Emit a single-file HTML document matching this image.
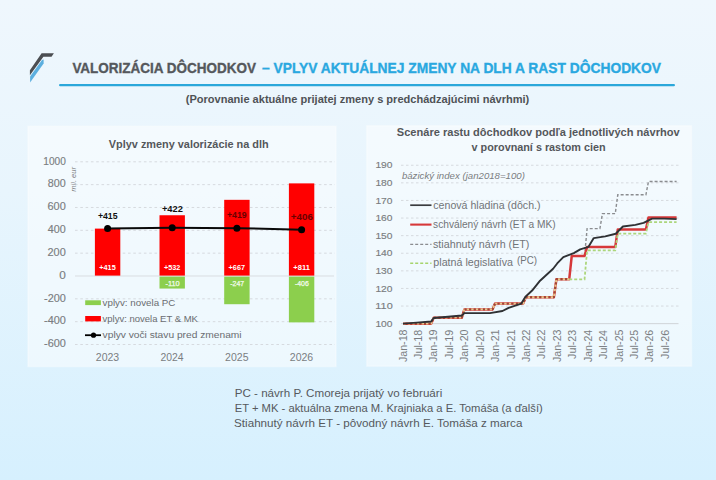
<!DOCTYPE html>
<html><head><meta charset="utf-8"><style>
html,body{margin:0;padding:0;width:716px;height:480px;overflow:hidden;}
body{background:linear-gradient(180deg,#eff7fd 0%,#e8f5fd 40%,#d6f0fe 100%);}
svg{position:absolute;left:0;top:0;}
text{font-family:"Liberation Sans", sans-serif;}
</style></head><body>
<svg width="716" height="480" viewBox="0 0 716 480">
<polygon points="41.6,53.15 53.9,53.15 51.5,56.7 43.4,56.7 29.9,75.3 29.9,70.2" fill="#4b4e52"/>
<polygon points="42,59.9 43.6,59.5 43.6,63.4 30.1,82.4 30.1,76.5" fill="#5cafdf"/>
<rect x="59" y="83.9" width="616" height="2.4" rx="1.2" fill="#2ba7da"/>
<rect x="28" y="126.3" width="308" height="240.2" fill="#ffffff" fill-opacity="0.48" stroke="#ffffff" stroke-opacity="0.3" stroke-width="1.6"/>
<rect x="366.8" y="125.8" width="324.7" height="240.4" fill="#ffffff" fill-opacity="0.48" stroke="#ffffff" stroke-opacity="0.3" stroke-width="1.6"/>
<line x1="75" y1="161.80" x2="335" y2="161.80" stroke="#d6dadf" stroke-width="1" stroke-dasharray="2.6 2.7"/>
<line x1="75" y1="184.64" x2="335" y2="184.64" stroke="#d6dadf" stroke-width="1" stroke-dasharray="2.6 2.7"/>
<line x1="75" y1="207.48" x2="335" y2="207.48" stroke="#d6dadf" stroke-width="1" stroke-dasharray="2.6 2.7"/>
<line x1="75" y1="230.32" x2="335" y2="230.32" stroke="#d6dadf" stroke-width="1" stroke-dasharray="2.6 2.7"/>
<line x1="75" y1="253.16" x2="335" y2="253.16" stroke="#d6dadf" stroke-width="1" stroke-dasharray="2.6 2.7"/>
<line x1="75" y1="298.84" x2="335" y2="298.84" stroke="#d6dadf" stroke-width="1" stroke-dasharray="2.6 2.7"/>
<line x1="75" y1="321.68" x2="335" y2="321.68" stroke="#d6dadf" stroke-width="1" stroke-dasharray="2.6 2.7"/>
<line x1="75" y1="344.52" x2="335" y2="344.52" stroke="#d6dadf" stroke-width="1" stroke-dasharray="2.6 2.7"/>
<line x1="75" y1="276.00" x2="334" y2="276.00" stroke="#d9dde1" stroke-width="1"/>
<rect x="94.90" y="228.61" width="25.4" height="46.99" fill="#ff0000"/>
<rect x="159.50" y="215.25" width="25.4" height="60.35" fill="#ff0000"/>
<rect x="159.50" y="276.60" width="25.4" height="11.96" fill="#8ccf4d"/>
<rect x="224.20" y="199.83" width="25.4" height="75.77" fill="#ff0000"/>
<rect x="224.20" y="276.60" width="25.4" height="27.61" fill="#8ccf4d"/>
<rect x="288.90" y="183.38" width="25.4" height="92.22" fill="#ff0000"/>
<rect x="288.90" y="276.60" width="25.4" height="45.77" fill="#8ccf4d"/>
<polyline points="107.60,228.61 172.20,227.81 236.90,228.15 301.60,229.63" fill="none" stroke="#0a0a0a" stroke-width="2"/>
<circle cx="107.6" cy="228.61" r="3.5" fill="#000"/>
<circle cx="172.2" cy="227.81" r="3.5" fill="#000"/>
<circle cx="236.9" cy="228.15" r="3.5" fill="#000"/>
<circle cx="301.6" cy="229.63" r="3.5" fill="#000"/>
<rect x="85.2" y="300.3" width="15.7" height="4.8" fill="#8ccf4d"/>
<rect x="85.2" y="316" width="15.7" height="5.4" fill="#ff0000"/>
<line x1="85" y1="335.2" x2="101" y2="335.2" stroke="#000" stroke-width="1.8"/>
<circle cx="93.5" cy="335.2" r="2.6" fill="#000"/>
<line x1="401" y1="165.25" x2="678.5" y2="165.25" stroke="#d6dadf" stroke-width="1" stroke-dasharray="2.5 2.5"/>
<line x1="401" y1="182.85" x2="678.5" y2="182.85" stroke="#d6dadf" stroke-width="1" stroke-dasharray="2.5 2.5"/>
<line x1="401" y1="200.45" x2="678.5" y2="200.45" stroke="#d6dadf" stroke-width="1" stroke-dasharray="2.5 2.5"/>
<line x1="401" y1="218.05" x2="678.5" y2="218.05" stroke="#d6dadf" stroke-width="1" stroke-dasharray="2.5 2.5"/>
<line x1="401" y1="235.65" x2="678.5" y2="235.65" stroke="#d6dadf" stroke-width="1" stroke-dasharray="2.5 2.5"/>
<line x1="401" y1="253.25" x2="678.5" y2="253.25" stroke="#d6dadf" stroke-width="1" stroke-dasharray="2.5 2.5"/>
<line x1="401" y1="270.85" x2="678.5" y2="270.85" stroke="#d6dadf" stroke-width="1" stroke-dasharray="2.5 2.5"/>
<line x1="401" y1="288.45" x2="678.5" y2="288.45" stroke="#d6dadf" stroke-width="1" stroke-dasharray="2.5 2.5"/>
<line x1="401" y1="306.05" x2="678.5" y2="306.05" stroke="#d6dadf" stroke-width="1" stroke-dasharray="2.5 2.5"/>
<line x1="401" y1="323.65" x2="678.5" y2="323.65" stroke="#d0d4d8" stroke-width="1"/>
<polyline points="584.55,255.89 587.10,228.61 589.66,228.61 592.22,228.61 594.77,228.61 597.33,228.61 599.89,228.61 602.45,213.65 605.00,213.65 607.56,213.65 610.12,213.65 612.67,213.65 615.23,213.65 617.79,194.82 620.35,194.82 622.90,194.82 625.46,194.82 628.02,194.82 630.57,194.82 633.13,194.82 635.69,194.82 638.24,194.82 640.80,194.82 643.36,194.82 645.91,194.82 648.47,181.44 651.03,181.44 653.59,181.44 656.14,181.44 658.70,181.44 661.26,181.44 663.81,181.44 666.37,181.44 668.93,181.44 671.49,181.44 674.04,181.44 676.60,181.44" fill="none" stroke="#8a8c8f" stroke-width="1.4" stroke-dasharray="3 2"/>
<polyline points="403.00,323.65 405.56,323.65 408.11,323.65 410.67,323.65 413.23,323.65 415.79,323.65 418.34,323.65 420.90,323.65 423.46,323.65 426.01,323.65 428.57,323.65 431.13,323.65 433.68,317.67 436.24,317.67 438.80,317.67 441.36,317.67 443.91,317.67 446.47,317.67 449.03,317.67 451.58,317.67 454.14,317.67 456.70,317.67 459.25,317.67 461.81,317.67 464.37,309.39 466.93,309.39 469.48,309.39 472.04,309.39 474.60,309.39 477.15,309.39 479.71,309.39 482.27,309.39 484.82,309.39 487.38,309.39 489.94,309.39 492.50,309.39 495.05,303.59 497.61,303.59 500.17,303.59 502.72,303.59 505.28,303.59 507.84,303.59 510.39,303.59 512.95,303.59 515.51,303.59 518.07,303.59 520.62,303.59 523.18,303.59 525.74,297.25 528.29,297.25 530.85,297.25 533.41,297.25 535.96,297.25 538.52,297.25 541.08,297.25 543.63,297.25 546.19,297.25 548.75,297.25 551.31,297.25 553.86,297.25 556.42,279.30 558.98,279.30 561.53,279.30 564.09,279.30 566.65,279.30 569.20,279.30 571.76,255.89 574.32,255.89 576.88,255.89 579.43,255.89 581.99,255.89 584.55,255.89 587.10,247.09 589.66,247.09 592.22,247.09 594.77,247.09 597.33,247.09 599.89,247.09 602.45,247.09 605.00,247.09 607.56,247.09 610.12,247.09 612.67,247.09 615.23,247.09 617.79,229.49 620.35,229.49 622.90,229.49 625.46,229.49 628.02,229.49 630.57,229.49 633.13,229.49 635.69,229.49 638.24,229.49 640.80,229.49 643.36,229.49 645.91,229.49 648.47,217.52 651.03,217.52 653.59,217.52 656.14,217.52 658.70,217.52 661.26,217.52 663.81,217.52 666.37,217.52 668.93,217.52 671.49,217.52 674.04,217.52 676.60,217.52" fill="none" stroke="#d6383a" stroke-width="2.5" stroke-linejoin="round"/>
<polyline points="403.00,323.65 405.56,323.65 408.11,323.65 410.67,323.65 413.23,323.65 415.79,323.65 418.34,323.65 420.90,323.65 423.46,323.65 426.01,323.65 428.57,323.65 431.13,323.65 433.68,317.67 436.24,317.67 438.80,317.67 441.36,317.67 443.91,317.67 446.47,317.67 449.03,317.67 451.58,317.67 454.14,317.67 456.70,317.67 459.25,317.67 461.81,317.67 464.37,309.39 466.93,309.39 469.48,309.39 472.04,309.39 474.60,309.39 477.15,309.39 479.71,309.39 482.27,309.39 484.82,309.39 487.38,309.39 489.94,309.39 492.50,309.39 495.05,303.59 497.61,303.59 500.17,303.59 502.72,303.59 505.28,303.59 507.84,303.59 510.39,303.59 512.95,303.59 515.51,303.59 518.07,303.59 520.62,303.59 523.18,303.59 525.74,297.25 528.29,297.25 530.85,297.25 533.41,297.25 535.96,297.25 538.52,297.25 541.08,297.25 543.63,297.25 546.19,297.25 548.75,297.25 551.31,297.25 553.86,297.25 556.42,279.30 558.98,279.30 561.53,279.30 564.09,279.30 566.65,279.30 569.20,279.30" fill="none" stroke="#e6c98e" stroke-width="1.9" stroke-dasharray="2.6 2" stroke-linejoin="round"/>
<polyline points="403.00,323.65 405.56,323.65 408.11,323.65 410.67,323.65 413.23,323.65 415.79,323.65 418.34,323.65 420.90,323.65 423.46,323.65 426.01,323.65 428.57,323.65 431.13,323.65 433.68,317.67 436.24,317.67 438.80,317.67 441.36,317.67 443.91,317.67 446.47,317.67 449.03,317.67 451.58,317.67 454.14,317.67 456.70,317.67 459.25,317.67 461.81,317.67 464.37,309.39 466.93,309.39 469.48,309.39 472.04,309.39 474.60,309.39 477.15,309.39 479.71,309.39 482.27,309.39 484.82,309.39 487.38,309.39 489.94,309.39 492.50,309.39 495.05,303.59 497.61,303.59 500.17,303.59 502.72,303.59 505.28,303.59 507.84,303.59 510.39,303.59 512.95,303.59 515.51,303.59 518.07,303.59 520.62,303.59 523.18,303.59 525.74,297.25 528.29,297.25 530.85,297.25 533.41,297.25 535.96,297.25 538.52,297.25 541.08,297.25 543.63,297.25 546.19,297.25 548.75,297.25 551.31,297.25 553.86,297.25 556.42,279.30 558.98,279.30 561.53,279.30 564.09,279.30 566.65,279.30 569.20,279.30" fill="none" stroke="#9a4a35" stroke-width="1.9" stroke-dasharray="0 2.6 2 0" stroke-linejoin="round"/>
<polyline points="569.20,279.30 571.76,279.30 574.32,279.30 576.88,279.30 579.43,279.30 581.99,279.30 584.55,279.30 587.10,250.43 589.66,250.43 592.22,250.43 594.77,250.43 597.33,250.43 599.89,250.43 602.45,250.43 605.00,250.43 607.56,250.43 610.12,250.43 612.67,250.43 615.23,250.43 617.79,233.54 620.35,233.54 622.90,233.54 625.46,233.54 628.02,233.54 630.57,233.54 633.13,233.54 635.69,233.54 638.24,233.54 640.80,233.54 643.36,233.54 645.91,233.54 648.47,222.10 651.03,222.10 653.59,222.10 656.14,222.10 658.70,222.10 661.26,222.10 663.81,222.10 666.37,222.10 668.93,222.10 671.49,222.10 674.04,222.10 676.60,222.10" fill="none" stroke="#acd67c" stroke-width="1.8" stroke-dasharray="3 2"/>
<polyline points="403.00,323.65 416.68,322.59 431.13,321.54 433.68,318.02 448.00,316.79 461.81,315.55 464.37,313.09 489.94,313.09 502.47,310.98 508.60,307.81 521.26,303.59 525.48,296.72 532.13,290.56 540.06,280.71 553.10,268.74 557.19,263.46 563.32,257.12 573.81,253.07 580.20,249.38 588.38,246.91 593.75,238.11 605.26,236.35 615.74,233.71 622.90,226.50 635.43,224.91 643.61,222.80 652.05,218.58 664.33,218.58 676.60,219.11" fill="none" stroke="#2f3134" stroke-width="1.9" stroke-linejoin="round"/>
<line x1="410.2" y1="205.2" x2="431.5" y2="205.2" stroke="#3a3c3f" stroke-width="1.7"/>
<line x1="410.2" y1="224.6" x2="431.5" y2="224.6" stroke="#d6383a" stroke-width="2.1"/>
<line x1="410.2" y1="244.3" x2="431.5" y2="244.3" stroke="#8a8c8f" stroke-width="1.3" stroke-dasharray="3 2"/>
<line x1="410.2" y1="263.3" x2="431.5" y2="263.3" stroke="#a6d46c" stroke-width="1.6" stroke-dasharray="3 2"/>
<text x="72.38" y="73.00" textLength="183.63" lengthAdjust="spacingAndGlyphs" font-size="15" fill="#55585c" font-weight="bold" stroke="#55585c" stroke-width="0.35">VALORIZÁCIA DÔCHODKOV</text>
<text x="262.03" y="73.00" textLength="399.00" lengthAdjust="spacingAndGlyphs" font-size="15" fill="#2aa8e0" font-weight="bold" stroke="#2aa8e0" stroke-width="0.35">– VPLYV AKTUÁLNEJ ZMENY NA DLH A RAST DÔCHODKOV</text>
<text x="185.78" y="102.60" textLength="343.51" lengthAdjust="spacingAndGlyphs" font-size="11.6" fill="#4f5256" font-weight="bold">(Porovnanie aktuálne prijatej zmeny s predchádzajúcimi návrhmi)</text>
<text x="108.80" y="147.60" textLength="159.83" lengthAdjust="spacingAndGlyphs" font-size="11.5" fill="#54575b" font-weight="bold">Vplyv zmeny valorizácie na dlh</text>
<text x="43.27" y="164.60" textLength="22.54" lengthAdjust="spacingAndGlyphs" font-size="10.2" fill="#7a7d81" stroke="#7a7d81" stroke-width="0.15">1000</text>
<text x="47.81" y="187.44" textLength="17.92" lengthAdjust="spacingAndGlyphs" font-size="10.2" fill="#7a7d81" stroke="#7a7d81" stroke-width="0.15">800</text>
<text x="47.50" y="210.28" textLength="18.23" lengthAdjust="spacingAndGlyphs" font-size="10.2" fill="#7a7d81" stroke="#7a7d81" stroke-width="0.15">600</text>
<text x="47.81" y="233.12" textLength="17.92" lengthAdjust="spacingAndGlyphs" font-size="10.2" fill="#7a7d81" stroke="#7a7d81" stroke-width="0.15">400</text>
<text x="47.50" y="255.96" textLength="18.23" lengthAdjust="spacingAndGlyphs" font-size="10.2" fill="#7a7d81" stroke="#7a7d81" stroke-width="0.15">200</text>
<text x="59.28" y="278.80" textLength="6.57" lengthAdjust="spacingAndGlyphs" font-size="10.2" fill="#7a7d81" stroke="#7a7d81" stroke-width="0.15">0</text>
<text x="44.11" y="301.64" textLength="21.80" lengthAdjust="spacingAndGlyphs" font-size="10.2" fill="#7a7d81" stroke="#7a7d81" stroke-width="0.15">-200</text>
<text x="44.11" y="324.48" textLength="21.80" lengthAdjust="spacingAndGlyphs" font-size="10.2" fill="#7a7d81" stroke="#7a7d81" stroke-width="0.15">-400</text>
<text x="44.11" y="347.32" textLength="21.80" lengthAdjust="spacingAndGlyphs" font-size="10.2" fill="#7a7d81" stroke="#7a7d81" stroke-width="0.15">-600</text>
<text transform="translate(75.90,191.67) rotate(-90)" textLength="24.57" lengthAdjust="spacingAndGlyphs" font-size="7.4" fill="#7c7f82" font-style="italic">mil. eur</text>
<text x="97.92" y="219.20" textLength="19.61" lengthAdjust="spacingAndGlyphs" font-size="8.2" fill="#111111" font-weight="bold">+415</text>
<text x="161.98" y="212.00" textLength="20.87" lengthAdjust="spacingAndGlyphs" font-size="8.2" fill="#111111" font-weight="bold">+422</text>
<text x="227.02" y="218.40" textLength="19.72" lengthAdjust="spacingAndGlyphs" font-size="8.2" fill="#6a0000" font-weight="bold">+419</text>
<text x="290.85" y="220.30" textLength="22.01" lengthAdjust="spacingAndGlyphs" font-size="8.2" fill="#6a0000" font-weight="bold">+406</text>
<text x="99.32" y="270.30" textLength="16.43" lengthAdjust="spacingAndGlyphs" font-size="7.2" fill="#ffffff" font-weight="bold">+415</text>
<text x="163.92" y="270.30" textLength="16.43" lengthAdjust="spacingAndGlyphs" font-size="7.2" fill="#ffffff" font-weight="bold">+532</text>
<text x="165.53" y="285.90" textLength="14.17" lengthAdjust="spacingAndGlyphs" font-size="7.4" fill="#f4fbee" stroke="#f4fbee" stroke-width="0.25">-110</text>
<text x="228.62" y="270.30" textLength="16.43" lengthAdjust="spacingAndGlyphs" font-size="7.2" fill="#ffffff" font-weight="bold">+667</text>
<text x="230.24" y="285.90" textLength="13.92" lengthAdjust="spacingAndGlyphs" font-size="7.4" fill="#f4fbee" stroke="#f4fbee" stroke-width="0.25">-247</text>
<text x="293.31" y="270.30" textLength="16.55" lengthAdjust="spacingAndGlyphs" font-size="7.2" fill="#ffffff" font-weight="bold">+811</text>
<text x="294.94" y="285.90" textLength="13.92" lengthAdjust="spacingAndGlyphs" font-size="7.4" fill="#f4fbee" stroke="#f4fbee" stroke-width="0.25">-406</text>
<text x="95.81" y="360.70" textLength="23.41" lengthAdjust="spacingAndGlyphs" font-size="10.8" fill="#7a7d81">2023</text>
<text x="160.41" y="360.70" textLength="23.14" lengthAdjust="spacingAndGlyphs" font-size="10.8" fill="#7a7d81">2024</text>
<text x="225.11" y="360.70" textLength="23.41" lengthAdjust="spacingAndGlyphs" font-size="10.8" fill="#7a7d81">2025</text>
<text x="289.81" y="360.70" textLength="23.41" lengthAdjust="spacingAndGlyphs" font-size="10.8" fill="#7a7d81">2026</text>
<text x="102.60" y="305.80" textLength="72.81" lengthAdjust="spacingAndGlyphs" font-size="9.6" fill="#6a6d71">vplyv: novela PC</text>
<text x="102.60" y="321.70" textLength="95.31" lengthAdjust="spacingAndGlyphs" font-size="9.6" fill="#6a6d71">vplyv: novela ET &amp; MK</text>
<text x="102.60" y="337.60" textLength="139.02" lengthAdjust="spacingAndGlyphs" font-size="9.6" fill="#6a6d71">vplyv voči stavu pred zmenami</text>
<text x="396.84" y="135.60" textLength="282.84" lengthAdjust="spacingAndGlyphs" font-size="11.1" fill="#54575b" font-weight="bold">Scenáre rastu dôchodkov podľa jednotlivých návrhov</text>
<text x="471.60" y="150.60" textLength="134.00" lengthAdjust="spacingAndGlyphs" font-size="11.1" fill="#54575b" font-weight="bold">v porovnaní s rastom cien</text>
<text x="375.43" y="168.45" textLength="17.11" lengthAdjust="spacingAndGlyphs" font-size="9.8" fill="#7a7d81" stroke="#7a7d81" stroke-width="0.15">190</text>
<text x="375.43" y="186.05" textLength="17.11" lengthAdjust="spacingAndGlyphs" font-size="9.8" fill="#7a7d81" stroke="#7a7d81" stroke-width="0.15">180</text>
<text x="375.43" y="203.65" textLength="17.11" lengthAdjust="spacingAndGlyphs" font-size="9.8" fill="#7a7d81" stroke="#7a7d81" stroke-width="0.15">170</text>
<text x="375.43" y="221.25" textLength="17.11" lengthAdjust="spacingAndGlyphs" font-size="9.8" fill="#7a7d81" stroke="#7a7d81" stroke-width="0.15">160</text>
<text x="375.43" y="238.85" textLength="17.11" lengthAdjust="spacingAndGlyphs" font-size="9.8" fill="#7a7d81" stroke="#7a7d81" stroke-width="0.15">150</text>
<text x="375.43" y="256.45" textLength="17.11" lengthAdjust="spacingAndGlyphs" font-size="9.8" fill="#7a7d81" stroke="#7a7d81" stroke-width="0.15">140</text>
<text x="375.43" y="274.05" textLength="17.11" lengthAdjust="spacingAndGlyphs" font-size="9.8" fill="#7a7d81" stroke="#7a7d81" stroke-width="0.15">130</text>
<text x="375.43" y="291.65" textLength="17.11" lengthAdjust="spacingAndGlyphs" font-size="9.8" fill="#7a7d81" stroke="#7a7d81" stroke-width="0.15">120</text>
<text x="375.39" y="309.25" textLength="17.32" lengthAdjust="spacingAndGlyphs" font-size="9.8" fill="#7a7d81" stroke="#7a7d81" stroke-width="0.15">110</text>
<text x="375.43" y="326.85" textLength="17.11" lengthAdjust="spacingAndGlyphs" font-size="9.8" fill="#7a7d81" stroke="#7a7d81" stroke-width="0.15">100</text>
<text x="401.90" y="179.10" textLength="123.03" lengthAdjust="spacingAndGlyphs" font-size="8.6" fill="#7a7d80" font-style="italic">bázický index (jan2018=100)</text>
<text x="433.31" y="208.70" textLength="107.25" lengthAdjust="spacingAndGlyphs" font-size="10.2" fill="#717478">cenová hladina (dôch.)</text>
<text x="433.06" y="228.10" textLength="122.62" lengthAdjust="spacingAndGlyphs" font-size="10.2" fill="#717478">schválený návrh (ET a MK)</text>
<text x="433.03" y="247.70" textLength="96.39" lengthAdjust="spacingAndGlyphs" font-size="10.2" fill="#717478">stiahnutý návrh (ET)</text>
<text x="433.31" y="266.40" textLength="79.76" lengthAdjust="spacingAndGlyphs" font-size="10.2" fill="#717478">platná legislatíva</text>
<text x="516.98" y="264.30" textLength="20.08" lengthAdjust="spacingAndGlyphs" font-size="10.2" fill="#717478">(PC)</text>
<text transform="translate(406.60,362.11) rotate(-90)" textLength="32.62" lengthAdjust="spacingAndGlyphs" font-size="10" fill="#7a7d81">Jan-18</text>
<text transform="translate(422.03,358.89) rotate(-90)" textLength="29.18" lengthAdjust="spacingAndGlyphs" font-size="10" fill="#7a7d81">Jul-18</text>
<text transform="translate(437.46,362.11) rotate(-90)" textLength="32.62" lengthAdjust="spacingAndGlyphs" font-size="10" fill="#7a7d81">Jan-19</text>
<text transform="translate(452.89,358.89) rotate(-90)" textLength="29.18" lengthAdjust="spacingAndGlyphs" font-size="10" fill="#7a7d81">Jul-19</text>
<text transform="translate(468.32,362.11) rotate(-90)" textLength="32.62" lengthAdjust="spacingAndGlyphs" font-size="10" fill="#7a7d81">Jan-20</text>
<text transform="translate(483.75,358.89) rotate(-90)" textLength="29.18" lengthAdjust="spacingAndGlyphs" font-size="10" fill="#7a7d81">Jul-20</text>
<text transform="translate(499.18,362.11) rotate(-90)" textLength="32.62" lengthAdjust="spacingAndGlyphs" font-size="10" fill="#7a7d81">Jan-21</text>
<text transform="translate(514.61,358.89) rotate(-90)" textLength="29.48" lengthAdjust="spacingAndGlyphs" font-size="10" fill="#7a7d81">Jul-21</text>
<text transform="translate(530.04,362.11) rotate(-90)" textLength="32.62" lengthAdjust="spacingAndGlyphs" font-size="10" fill="#7a7d81">Jan-22</text>
<text transform="translate(545.47,358.89) rotate(-90)" textLength="29.48" lengthAdjust="spacingAndGlyphs" font-size="10" fill="#7a7d81">Jul-22</text>
<text transform="translate(560.90,362.11) rotate(-90)" textLength="32.62" lengthAdjust="spacingAndGlyphs" font-size="10" fill="#7a7d81">Jan-23</text>
<text transform="translate(576.33,358.89) rotate(-90)" textLength="29.18" lengthAdjust="spacingAndGlyphs" font-size="10" fill="#7a7d81">Jul-23</text>
<text transform="translate(591.76,362.10) rotate(-90)" textLength="32.31" lengthAdjust="spacingAndGlyphs" font-size="10" fill="#7a7d81">Jan-24</text>
<text transform="translate(607.19,358.89) rotate(-90)" textLength="28.89" lengthAdjust="spacingAndGlyphs" font-size="10" fill="#7a7d81">Jul-24</text>
<text transform="translate(622.62,362.11) rotate(-90)" textLength="32.62" lengthAdjust="spacingAndGlyphs" font-size="10" fill="#7a7d81">Jan-25</text>
<text transform="translate(638.05,358.89) rotate(-90)" textLength="29.18" lengthAdjust="spacingAndGlyphs" font-size="10" fill="#7a7d81">Jul-25</text>
<text transform="translate(653.48,362.10) rotate(-90)" textLength="32.31" lengthAdjust="spacingAndGlyphs" font-size="10" fill="#7a7d81">Jan-26</text>
<text transform="translate(668.91,358.89) rotate(-90)" textLength="29.18" lengthAdjust="spacingAndGlyphs" font-size="10" fill="#7a7d81">Jul-26</text>
<text x="234.69" y="396.90" textLength="207.56" lengthAdjust="spacingAndGlyphs" font-size="10.3" fill="#56595d">PC - návrh P. Cmoreja prijatý vo februári</text>
<text x="234.70" y="412.30" textLength="308.13" lengthAdjust="spacingAndGlyphs" font-size="10.3" fill="#56595d">ET + MK - aktuálna zmena M. Krajniaka a E. Tomáša (a ďalší)</text>
<text x="234.07" y="427.40" textLength="288.35" lengthAdjust="spacingAndGlyphs" font-size="10.3" fill="#56595d">Stiahnutý návrh ET - pôvodný návrh E. Tomáša z marca</text>
</svg>
</body></html>
